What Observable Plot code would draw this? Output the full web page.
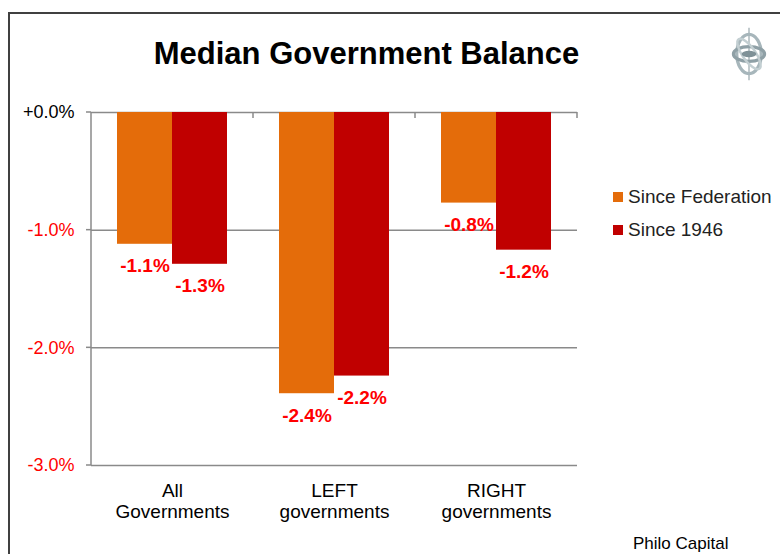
<!DOCTYPE html>
<html><head><meta charset="utf-8">
<script src="https://cdn.jsdelivr.net/npm/d3@7"></script>
<script src="https://cdn.jsdelivr.net/npm/@observablehq/plot@0.6"></script>
<style>
html,body{margin:0;padding:0;background:#fff;}
body{width:780px;height:554px;overflow:hidden;position:relative;font-family:"Liberation Sans",Arial,sans-serif;}
#frame{position:absolute;left:8px;top:12px;width:800px;height:600px;border:2px solid #404040;box-sizing:border-box;}
#chart{position:absolute;left:0;top:0;}
#title{position:absolute;left:0;top:38px;width:733px;text-align:center;font-size:31px;line-height:31px;font-weight:bold;color:#000;}
.leg{position:absolute;left:628px;font-size:19px;line-height:19px;color:#222;white-space:nowrap;}
.sw{position:absolute;left:-15px;top:5px;width:10px;height:10px;}
#caption{position:absolute;left:633px;top:535px;font-size:17px;line-height:17px;color:#000;}
#logo{position:absolute;left:731px;top:23px;}
</style>
</head><body>
<div id="frame"></div>
<div id="chart"></div>
<div id="title">Median Government Balance</div>
<div id="legend"></div>
<div id="caption">Philo Capital</div>
<svg id="logo" width="36" height="62" viewBox="0 0 44 66">
  <line x1="22" y1="1" x2="22" y2="65" stroke="#9aa9ae" stroke-width="1.5"/>
  <ellipse cx="22" cy="33" rx="15" ry="24" fill="none" stroke="#a7b6bb" stroke-width="4"/>
  <ellipse cx="22" cy="33" rx="19" ry="9" fill="none" stroke="#8fa0a6" stroke-width="4"/>
  <ellipse cx="22" cy="33" rx="8" ry="22" fill="none" stroke="#c3cfd2" stroke-width="3" transform="rotate(-35 22 33)"/>
  <ellipse cx="22" cy="33" rx="9" ry="4" fill="#7f9197"/>
</svg>
<script>
const categories = ["All Governments", "LEFT governments", "RIGHT governments"];
const categoryLabels = ["All\nGovernments", "LEFT\ngovernments", "RIGHT\ngovernments"];
const seriesNames = ["Since Federation", "Since 1946"];
const seriesColors = ["#E46C0A", "#C00000"];
const sinceFederation = [-1.12, -2.39, -0.77];
const since1946 = [-1.29, -2.24, -1.17];
const yTicks = [0, -1, -2, -3];

const rows = [];
categories.forEach((c, i) => {
  rows.push({cat: c, series: seriesNames[0], value: sinceFederation[i]});
  rows.push({cat: c, series: seriesNames[1], value: since1946[i]});
});
const catRows = categories.map((c, i) => ({cat: c, label: categoryLabels[i]}));
const fmtTick = d => d === 0 ? "+0.0%" : d.toFixed(1) + "%";
const gridColor = "#8a8a8a";

const plot = Plot.plot({
  width: 780,
  height: 554,
  marginTop: 112,
  marginBottom: 89,
  marginLeft: 90,
  marginRight: 202,
  style: {fontFamily: "'Liberation Sans', Arial, sans-serif", background: "transparent"},
  fx: {domain: categories, paddingInner: 0, paddingOuter: 0, axis: null, label: null},
  x: {domain: seriesNames, paddingInner: 0, paddingOuter: 0.452, axis: null, label: null},
  y: {domain: [-3, 0], axis: null, label: null},
  color: {domain: seriesNames, range: seriesColors},
  marks: [
    Plot.ruleY(yTicks, {stroke: gridColor, strokeWidth: 1.5}),
    Plot.barY(rows, {fx: "cat", x: "series", y: "value", fill: "series"}),
    Plot.text(rows, {fx: "cat", x: "series", y: "value", text: d => d.value.toFixed(1) + "%",
      dy: 22, fill: "#FF0000", fontWeight: "bold", fontSize: 19}),
    Plot.text(catRows, {fx: "cat", text: "label", frameAnchor: "bottom", lineAnchor: "top",
      dy: 16.5, fontSize: 19, lineHeight: 21 / 19, fill: "#000"}),
    Plot.text(yTicks, {filter: d => d === 0, fx: () => categories[0], y: d => d, text: fmtTick,
      frameAnchor: "left", textAnchor: "end", dx: -17, fontSize: 18, fill: "#000"}),
    Plot.text(yTicks, {filter: d => d !== 0, fx: () => categories[0], y: d => d, text: fmtTick,
      frameAnchor: "left", textAnchor: "end", dx: -17, fontSize: 18, fill: "#FF0000"})
  ]
});
document.getElementById("chart").appendChild(plot);

// axis line, y ticks and category boundary ticks, positioned through the plot's scales
const ys = plot.scale("y"), fxs = plot.scale("fx");
const g = d3.select(plot).append("g").attr("stroke", gridColor).attr("stroke-width", 1.5);
const x0 = fxs.apply(categories[0]);
g.append("line").attr("x1", x0).attr("x2", x0).attr("y1", ys.apply(0)).attr("y2", ys.apply(-3));
yTicks.forEach(t => g.append("line").attr("x1", x0 - 5).attr("x2", x0).attr("y1", ys.apply(t)).attr("y2", ys.apply(t)));
categories.forEach(c => {
  const xb = fxs.apply(c) + fxs.bandwidth;
  g.append("line").attr("x1", xb).attr("x2", xb).attr("y1", ys.apply(0)).attr("y2", ys.apply(0) + 6);
});

// legend
const legend = document.getElementById("legend");
seriesNames.forEach((s, i) => {
  const item = document.createElement("div");
  item.className = "leg";
  item.style.top = (187 + i * 33) + "px";
  const sw = document.createElement("span");
  sw.className = "sw";
  sw.style.background = seriesColors[i];
  item.appendChild(sw);
  item.appendChild(document.createTextNode(s));
  legend.appendChild(item);
});
</script>
</body></html>
